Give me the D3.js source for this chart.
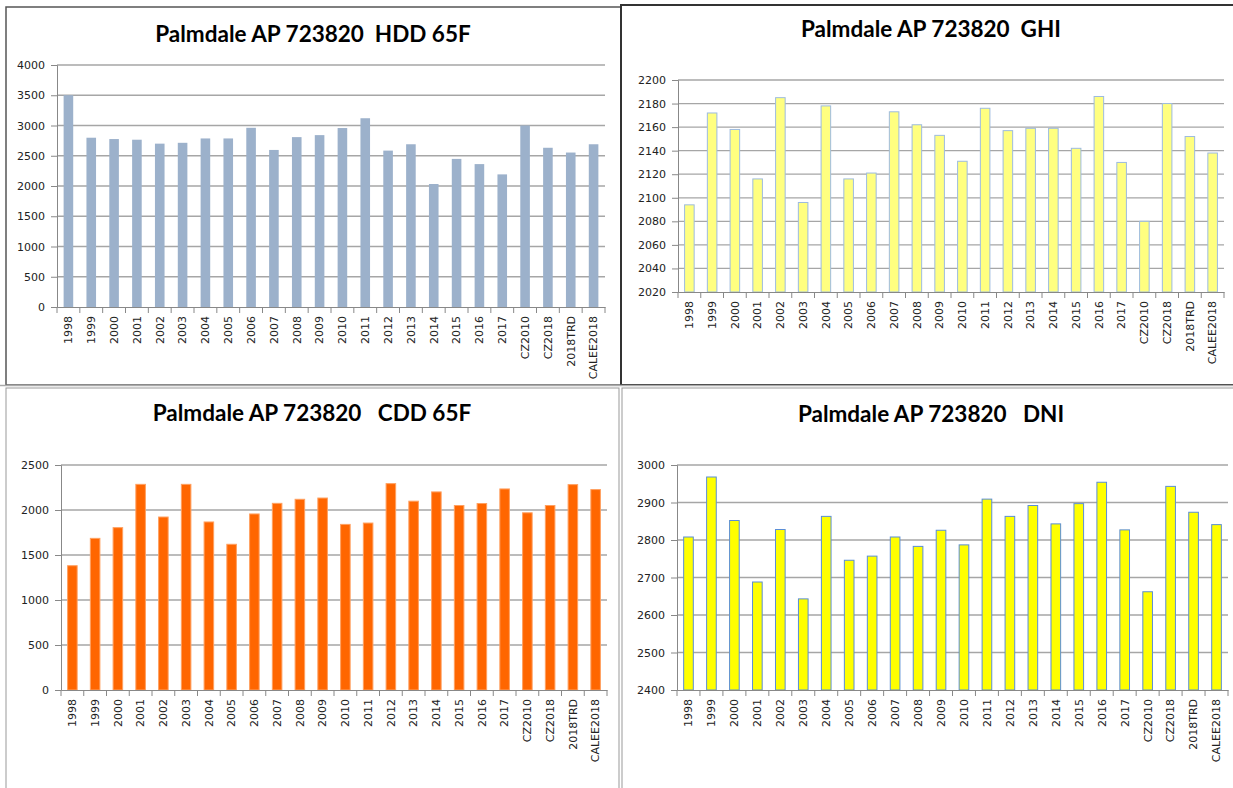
<!DOCTYPE html>
<html>
<head>
<meta charset="utf-8">
<script src="https://cdn.jsdelivr.net/npm/d3@7"></script>
<style>
  html, body { margin: 0; padding: 0; background: #fff; }
  svg { display: block; }
  .tick text { font-family: "DejaVu Sans", sans-serif; font-size: 11px; fill: #222; }
  .title { font-family: Lato, "Open Sans", sans-serif; font-weight: bold; fill: #000; }
</style>
</head>
<body>
<svg id="chart" width="1233" height="788"></svg>
<script>
// ---- Data ----
const categories = ["1998","1999","2000","2001","2002","2003","2004","2005","2006","2007","2008","2009","2010","2011","2012","2013","2014","2015","2016","2017","CZ2010","CZ2018","2018TRD","CALEE2018"];

const hddValues = [3500,2798,2776,2765,2700,2714,2786,2786,2962,2596,2808,2841,2958,3120,2585,2690,2033,2448,2362,2192,3000,2632,2553,2690];
const ghiValues = [2094,2172,2158,2116,2185,2096,2178,2116,2121,2173,2162,2153,2131,2176,2157,2159,2159,2142,2186,2130,2080,2180,2152,2138];
const cddValues = [1381,1685,1804,2285,1922,2285,1867,1619,1956,2074,2119,2133,1840,1855,2293,2098,2201,2050,2072,2234,1969,2050,2282,2227];
const dniValues = [2808,2968,2852,2688,2828,2643,2863,2746,2757,2808,2783,2826,2787,2909,2863,2892,2843,2897,2954,2827,2662,2943,2874,2841];

const hddTicks = [0,500,1000,1500,2000,2500,3000,3500,4000];
const ghiTicks = [2020,2040,2060,2080,2100,2120,2140,2160,2180,2200];
const cddTicks = [0,500,1000,1500,2000,2500];
const dniTicks = [2400,2500,2600,2700,2800,2900,3000];

const titles = {
  hdd: "Palmdale AP 723820\u00a0\u00a0HDD 65F",
  ghi: "Palmdale AP 723820\u00a0\u00a0GHI",
  cdd: "Palmdale AP 723820\u00a0\u00a0\u00a0CDD 65F",
  dni: "Palmdale AP 723820\u00a0\u00a0\u00a0DNI"
};

// ---- Layout ----
const svg = d3.select("#chart");

const frames = [
  {x: 6, y: 7, w: 615, h: 378, stroke: "#555", sw: 1.5},
  {x: 621, y: 5, w: 620, h: 380, stroke: "#333", sw: 2},
  {x: 6, y: 388, w: 613, h: 410, stroke: "#999", sw: 1},
  {x: 622, y: 388, w: 620, h: 410, stroke: "#999", sw: 1}
];
svg.selectAll("rect.frame").data(frames).join("rect")
  .attr("class", "frame")
  .attr("x", d => d.x).attr("y", d => d.y)
  .attr("width", d => d.w).attr("height", d => d.h)
  .attr("fill", "none").attr("stroke", d => d.stroke).attr("stroke-width", d => d.sw);
svg.append("line").attr("x1", 0).attr("x2", 1233).attr("y1", 385.5).attr("y2", 385.5)
  .attr("stroke", "#aaa").attr("stroke-width", 1.5);

function panel(cfg) {
  const g = svg.append("g");
  const x = d3.scaleBand().domain(categories).range([cfg.left, cfg.right]).paddingInner(0.58).paddingOuter(0.29);
  const y = d3.scaleLinear().domain([cfg.ticks[0], cfg.ticks[cfg.ticks.length - 1]]).range([cfg.bottom, cfg.top]);

  g.append("g").selectAll("line").data(cfg.ticks.slice(1)).join("line")
    .attr("x1", cfg.left).attr("x2", cfg.right)
    .attr("y1", d => y(d)).attr("y2", d => y(d))
    .attr("stroke", "#a6a6a6").attr("stroke-width", 1.3);

  g.append("g").selectAll("rect").data(cfg.values).join("rect")
    .attr("x", (d, i) => x(categories[i]))
    .attr("width", x.bandwidth())
    .attr("y", d => y(d))
    .attr("height", d => cfg.bottom - y(d))
    .attr("fill", cfg.fill)
    .attr("stroke", cfg.stroke || "none")
    .attr("stroke-width", cfg.stroke ? 1 : 0);

  const ya = g.append("g").attr("transform", `translate(${cfg.left},0)`)
    .call(d3.axisLeft(y).tickValues(cfg.ticks).tickFormat(d3.format("d")).tickSize(6).tickPadding(6));
  ya.select(".domain").attr("stroke", "#888");
  ya.selectAll(".tick line").attr("stroke", "#888");

  const xa = g.append("g").attr("transform", `translate(0,${cfg.bottom})`)
    .call(d3.axisBottom(x).tickSize(0).tickPadding(0));
  xa.select(".domain").attr("stroke", "#888");
  xa.selectAll(".tick text")
    .attr("transform", "rotate(-90)")
    .attr("text-anchor", "end")
    .attr("x", -9).attr("y", 0).attr("dy", "0.35em");
  const bounds = d3.range(categories.length + 1).map(i => cfg.left + i * (cfg.right - cfg.left) / categories.length);
  xa.append("g").selectAll("line").data(bounds).join("line")
    .attr("x1", d => d).attr("x2", d => d).attr("y1", 0).attr("y2", 6)
    .attr("stroke", "#888");

  svg.append("text").attr("class", "title")
    .attr("x", cfg.titleX).attr("y", cfg.titleY)
    .attr("text-anchor", "middle")
    .style("font-size", cfg.titleSize + "px")
    .text(cfg.title);
}

panel({values: hddValues, ticks: hddTicks, left: 57, right: 605, top: 65, bottom: 307,
  fill: "#9cb1cb", title: titles.hdd, titleX: 313, titleY: 42, titleSize: 22.5});
panel({values: ghiValues, ticks: ghiTicks, left: 678, right: 1224, top: 80, bottom: 292,
  fill: "#ffff80", stroke: "#9dbbe0", title: titles.ghi, titleX: 931, titleY: 37, titleSize: 22.5});
panel({values: cddValues, ticks: cddTicks, left: 61, right: 607, top: 465, bottom: 690,
  fill: "#ff6600", stroke: "#ffa060", title: titles.cdd, titleX: 312, titleY: 421, titleSize: 22.5});
panel({values: dniValues, ticks: dniTicks, left: 677, right: 1228, top: 465, bottom: 690,
  fill: "#ffff00", stroke: "#5b8ed6", title: titles.dni, titleX: 931, titleY: 422, titleSize: 22.5});
</script>
</body>
</html>
